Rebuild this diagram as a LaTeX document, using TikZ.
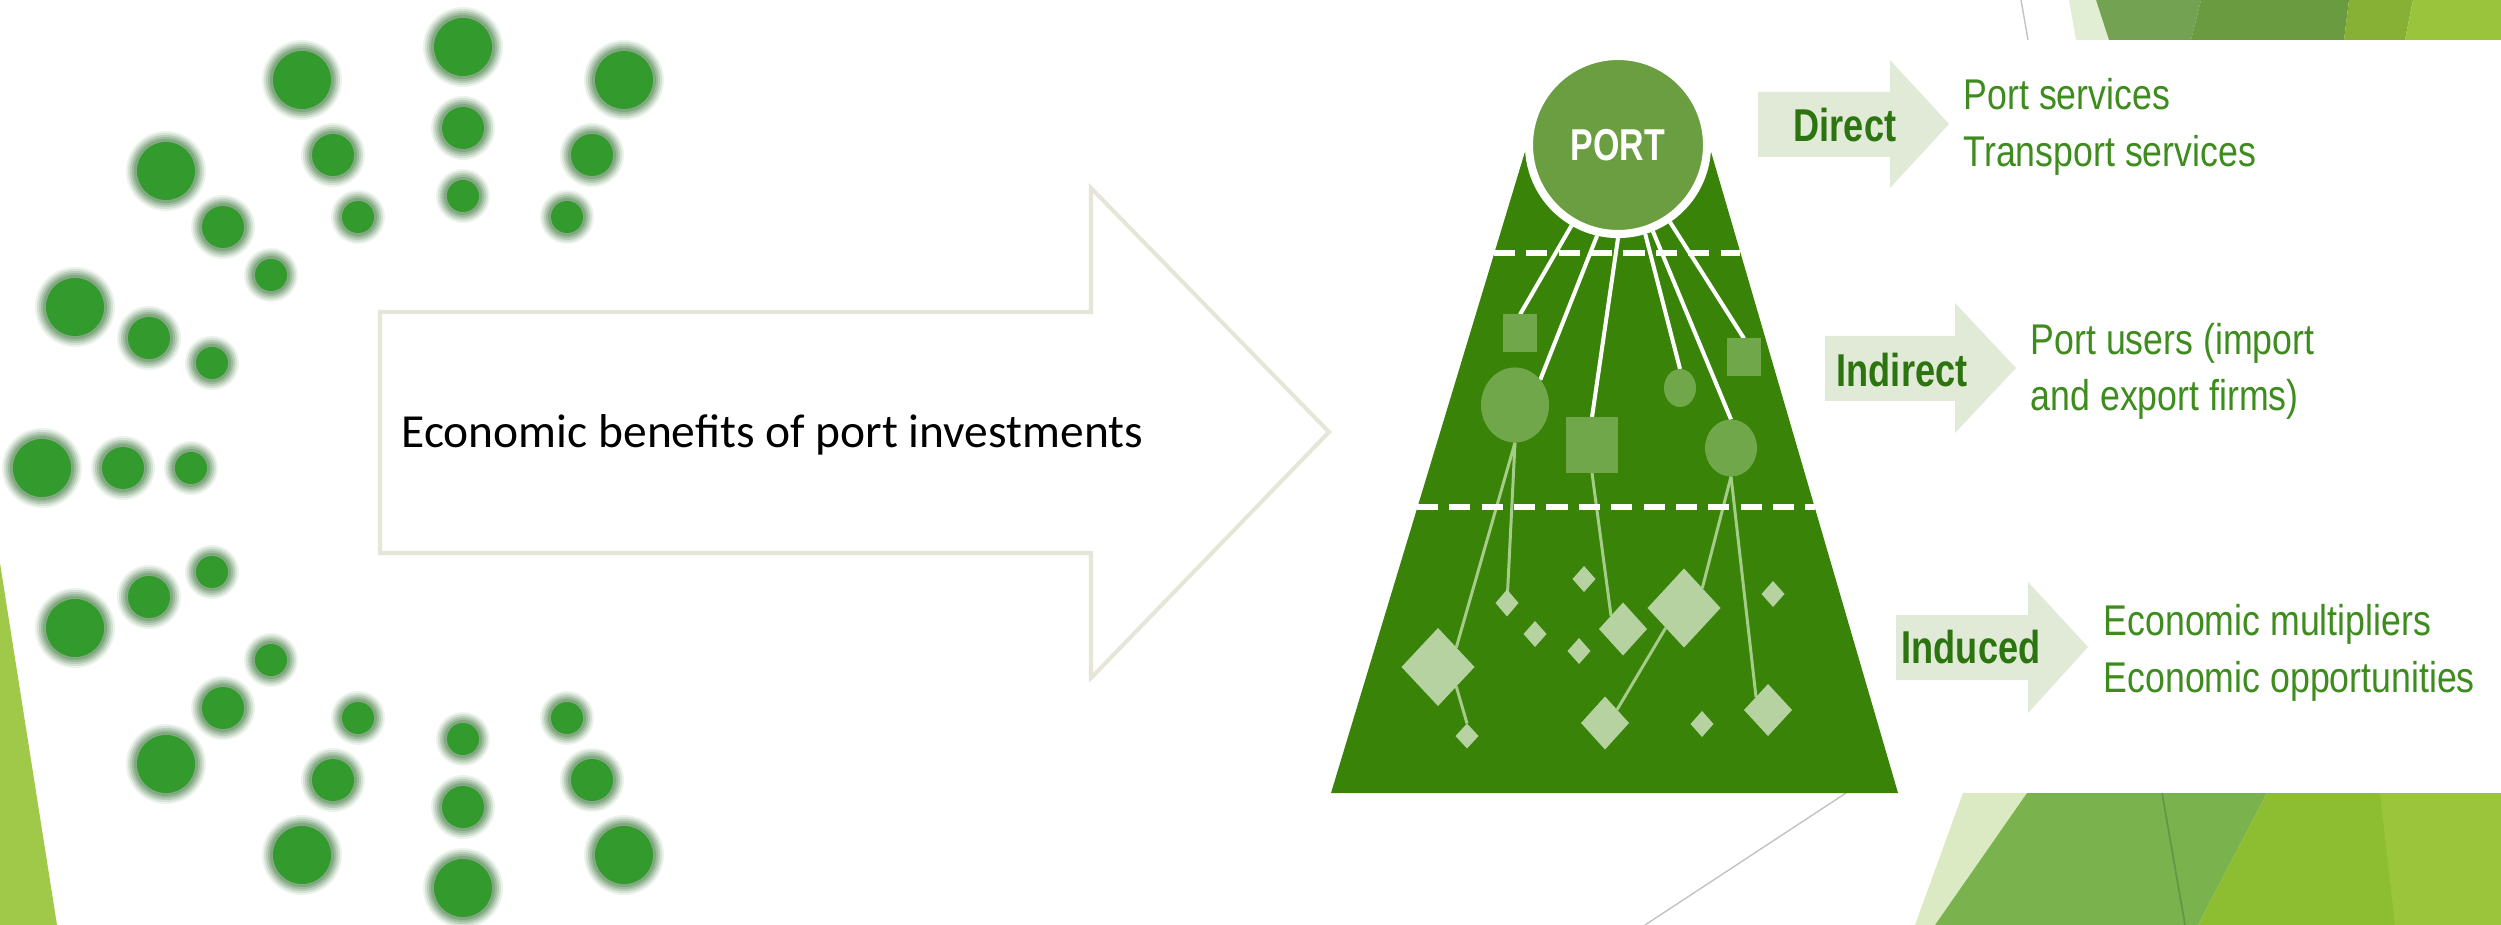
\documentclass[tikz,border=0pt]{standalone}
\usepackage{fontspec}
\setmainfont{Carlito}
\newfontfamily\arialn[FakeStretch=0.83]{Liberation Sans}
\newfontfamily\arialbn[FakeStretch=0.785]{Liberation Sans Bold}
\newfontfamily\portfont[FakeStretch=0.76]{Liberation Sans Bold}
\usetikzlibrary{shapes.geometric}
\pgfdeclarelayer{mid}\pgfdeclarelayer{front}
\pgfsetlayers{main,mid,front}
\definecolor{dotg}{RGB}{51,154,45}
\definecolor{halog}{RGB}{105,152,105}
\definecolor{sliver}{RGB}{160,201,74}
\definecolor{pyr}{RGB}{56,131,8}
\definecolor{portg}{RGB}{106,158,64}
\definecolor{midg}{RGB}{112,167,74}
\definecolor{diag}{RGB}{181,210,160}
\definecolor{lineg}{RGB}{166,204,138}
\definecolor{arrowg}{RGB}{225,234,214}
\definecolor{txtg}{RGB}{62,140,30}
\definecolor{bldg}{RGB}{44,116,16}
\definecolor{bigar}{RGB}{230,230,216}
\definecolor{bandpale}{RGB}{226,238,212}
\definecolor{bandA}{RGB}{115,162,82}
\definecolor{bandB}{RGB}{106,155,64}
\definecolor{bandC}{RGB}{134,177,52}
\definecolor{bandD}{RGB}{154,196,60}
\definecolor{botpale}{RGB}{220,234,196}
\definecolor{botmid}{RGB}{122,178,78}
\definecolor{botyg}{RGB}{141,190,50}
\definecolor{botyg2}{RGB}{155,198,60}
\definecolor{thingray}{RGB}{195,195,195}
\newcommand\hdot[3]{%
  \foreach \kk/\op in {11/0.12,9/0.18,7/0.25,5/0.35,3/0.5}{%
    \fill[halog,opacity=\op] (#1,#2) circle [radius=#3+\kk];}
  \fill[dotg] (#1,#2) circle [radius=#3];}
\tikzset{
  midshape/.style={fill=midg,draw=none,inner sep=0pt,outer sep=0pt},
  sqbox/.style={midshape,rectangle},
  ellbox/.style={midshape,ellipse},
  dia/.style={fill=diag,draw=none,diamond,inner sep=0pt,outer sep=0pt},
  wline/.style={white,line width=1.15pt},
  gline/.style={lineg,line width=0.85pt},
  dline/.style={white,line width=1.7pt,dash pattern=on 6pt off 3.2pt},
  benarrow/.style={fill=arrowg,draw=none},
  grayline/.style={thingray,line width=0.4pt},
  regtxt/.style={font=\arialn\fontsize{12.23pt}{14pt}\selectfont,text=txtg,inner sep=0pt,anchor=base west},
  bldtxt/.style={font=\arialbn\fontsize{13.1pt}{15pt}\selectfont,text=bldg,inner sep=0pt,anchor=base west},
  portc/.style={circle,fill=portg,draw=white,line width=2.3pt,minimum size=1.78cm,inner sep=0pt,
    text=white,font=\portfont\fontsize{12.7pt}{14pt}\selectfont}
}
\begin{document}
\begin{tikzpicture}[x=0.01cm,y=-0.01cm]
\useasboundingbox (0,0) rectangle (2501,925);
\fill[white] (0,0) rectangle (2501,925);
% decorations
\fill[sliver] (0,563) -- (57,925) -- (0,925) -- cycle;
\fill[bandpale] (2069,0) -- (2096,0) -- (2109,40) -- (2076,40) -- cycle;
\fill[bandA] (2096,0) -- (2201,0) -- (2191,40) -- (2109,40) -- cycle;
\fill[bandB] (2201,0) -- (2349,0) -- (2344,40) -- (2191,40) -- cycle;
\fill[bandC] (2349,0) -- (2413,0) -- (2405,40) -- (2344,40) -- cycle;
\fill[bandD] (2413,0) -- (2501,0) -- (2501,40) -- (2405,40) -- cycle;
\draw[grayline] (2021,0) -- (2028,40);
\fill[botpale] (1963,793) -- (2027,793) -- (1935,925) -- (1915,925) -- cycle;
\fill[botmid] (2027,793) -- (2267,793) -- (2198,925) -- (1935,925) -- cycle;
\fill[botyg] (2267,793) -- (2501,793) -- (2501,925) -- (2198,925) -- cycle;
\fill[botyg2] (2380,793) -- (2501,793) -- (2501,925) -- (2395,925) -- cycle;
\draw[color={rgb,255:red,98;green,152;blue,66},line width=0.5pt] (2162,793) -- (2185,925);
\draw[grayline] (1645,925) -- (1846,793);
% dots
\foreach \xx/\yy/\rr in {302/80/29,463/47/29,624/80/29,166/171/29,75/307/29,
  333/155/21,463/128/21,592/155/21,223/227/21,149/338/21,
  358/217/16,463/196/16,567/217/16,271/275/16,212/363/16}{
  \hdot{\xx}{\yy}{\rr}
  \hdot{\xx}{935-\yy}{\rr}}
\hdot{42}{468}{29}
\hdot{123}{468}{21}
\hdot{191}{468}{16}
% big arrow
\draw[bigar,line width=1.15pt,fill=white] (380,312) -- (1091,312) -- (1091,188) -- (1329,432)
  -- (1091,678) -- (1091,553) -- (380,553) -- cycle;
\node[anchor=base west,inner sep=0pt,font=\fontsize{13.5pt}{15pt}\selectfont] (title) at (401,448)
  {Economic benefits of port investments};
% pyramid
\fill[pyr] (1331,793) -- (1898,793) -- (1709,145) -- (1527,145) -- cycle;
% benefit arrows
\fill[benarrow] (1758,92) -- (1890,92) -- (1890,60) -- (1949,124) -- (1890,188) -- (1890,157) -- (1758,157) -- cycle;
\fill[benarrow] (1825,336) -- (1955,336) -- (1955,303) -- (2016,368) -- (1955,433) -- (1955,401) -- (1825,401) -- cycle;
\fill[benarrow] (1896,615) -- (2028,615) -- (2028,582) -- (2088,647) -- (2028,713) -- (2028,680) -- (1896,680) -- cycle;
\node[bldtxt] (tdirect) at (1793,142) {Direct};
\node[bldtxt] (tindirect) at (1836,387) {Indirect};
\node[bldtxt] (tinduced) at (1901,663) {Induced};
\node[regtxt] (ps) at (1963,110) {Port services};
\node[regtxt] (ts) at (1963,167) {Transport services};
\node[regtxt] (pu) at (2030,355) {Port users (import};
\node[regtxt] (ef) at (2030,411) {and export firms)};
\node[regtxt] (em) at (2103,635) {Economic multipliers};
\node[regtxt] (eo) at (2103,692) {Economic opportunities};
% shapes
\begin{pgfonlayer}{front}
\node[sqbox,minimum width=0.34cm,minimum height=0.37cm] (sq1) at (1520,333) {};
\node[sqbox,minimum width=0.34cm,minimum height=0.37cm] (sq2) at (1744,357) {};
\node[sqbox,minimum width=0.52cm,minimum height=0.56cm] (bigsq) at (1592,445) {};
\node[ellbox,minimum width=0.68cm,minimum height=0.75cm] (circ1) at (1515,405) {};
\node[ellbox,minimum width=0.32cm,minimum height=0.38cm] (scirc) at (1680,388) {};
\node[ellbox,minimum width=0.52cm,minimum height=0.57cm] (rcirc) at (1731,448) {};
\node[dia,minimum width=0.73cm,minimum height=0.78cm] (d1) at (1438,667) {};
\node[dia,minimum width=0.23cm,minimum height=0.25cm] (d2) at (1467,736) {};
\node[dia,minimum width=0.23cm,minimum height=0.27cm] (d3) at (1507,603) {};
\node[dia,minimum width=0.23cm,minimum height=0.26cm] (d4) at (1535,634) {};
\node[dia,minimum width=0.23cm,minimum height=0.26cm] (d5) at (1584,579) {};
\node[dia,minimum width=0.23cm,minimum height=0.26cm] (d6) at (1579,651) {};
\node[dia,minimum width=0.48cm,minimum height=0.53cm] (d7) at (1623,629) {};
\node[dia,minimum width=0.73cm,minimum height=0.79cm] (d8) at (1684,608) {};
\node[dia,minimum width=0.48cm,minimum height=0.53cm] (d9) at (1605,723) {};
\node[dia,minimum width=0.23cm,minimum height=0.26cm] (d10) at (1773,594) {};
\node[dia,minimum width=0.23cm,minimum height=0.26cm] (d11) at (1702,724) {};
\node[dia,minimum width=0.48cm,minimum height=0.52cm] (d12) at (1768,710) {};
\draw[dline] (1494,253) -- (1740,253);
\draw[dline] (1417,507) -- (1815,507);
\node[portc] (port) at (1618,145) {PORT};
\end{pgfonlayer}
% connectors
\begin{pgfonlayer}{mid}
\draw[wline] (port.-120) -- (sq1.north);
\draw[wline] (port.-103) -- (circ1.45);
\draw[wline] (port.-90) -- (bigsq.north);
\draw[wline] (port.-73) -- (scirc.north);
\draw[wline] (port.-68) -- (rcirc.north);
\draw[wline] (port.-56) -- (sq2.north);
\draw[gline] (circ1.south) -- (d3.center);
\draw[gline] (circ1.south) -- (d1.north east);
\draw[gline] (d1.south east) -- (d2.north);
\draw[gline] (bigsq.south) -- (d7.north west);
\draw[gline] (rcirc.south) -- (d8.north east);
\draw[gline] (d8.south west) -- (d9.north east);
\draw[gline] (rcirc.south) -- (d12.north west);
\end{pgfonlayer}
\end{tikzpicture}
\end{document}
